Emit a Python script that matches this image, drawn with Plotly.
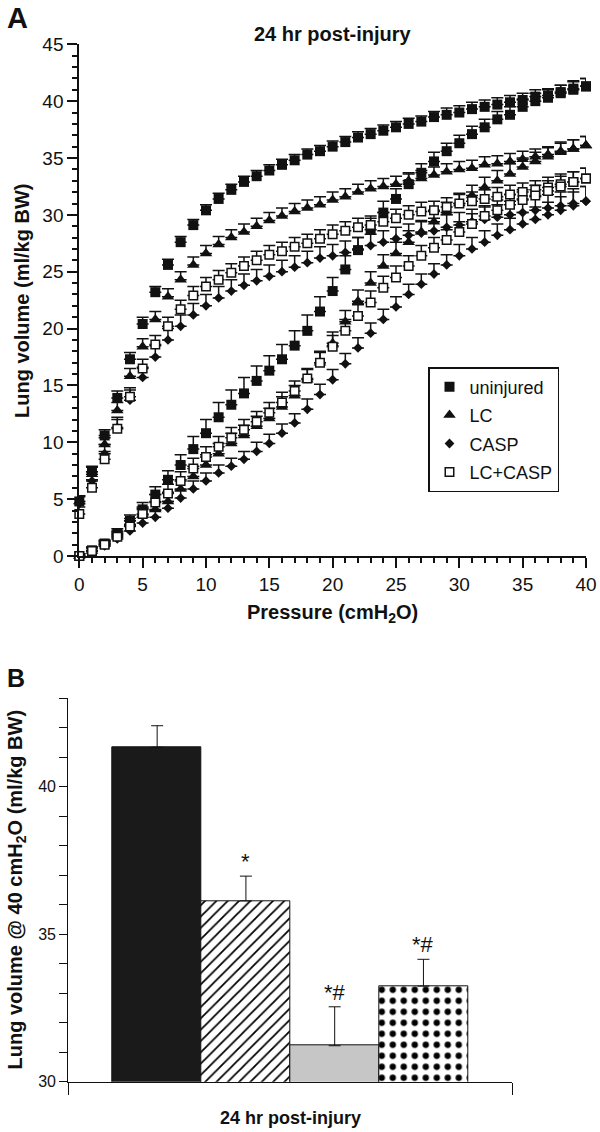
import plotly.graph_objects as go

# ---------------- Panel A data (pressure-volume loops) ----------------
pressure = [0, 1, 2, 3, 4, 5, 6, 7, 8, 9,
            10, 11, 12, 13, 14, 15, 16, 17, 18, 19,
            20, 21, 22, 23, 24, 25, 26, 27, 28, 29,
            30, 31, 32, 33, 34, 35, 36, 37, 38, 39, 40]

# deflation limb (upper) values, ml/kg BW
uninjured_up = [4.8, 7.4, 10.6, 13.9, 17.3, 20.4, 23.2, 25.6, 27.6, 29.1,
                30.4, 31.4, 32.2, 32.9, 33.4, 33.9, 34.4, 34.8, 35.3, 35.6,
                36.0, 36.4, 36.8, 37.1, 37.4, 37.7, 38.0, 38.2, 38.6, 38.8,
                39.0, 39.3, 39.5, 39.7, 39.9, 40.1, 40.4, 40.5, 40.8, 41.1, 41.3]
lc_up = [4.8, 7.2, 9.8, 12.8, 15.8, 18.4, 20.8, 22.8, 24.3, 25.6,
         26.6, 27.4, 28.0, 28.5, 29.0, 29.5, 29.9, 30.3, 30.6, 30.9,
         31.3, 31.6, 32.0, 32.3, 32.5, 32.7, 33.0, 33.2, 33.5, 33.8,
         34.0, 34.1, 34.4, 34.5, 34.7, 34.9, 35.1, 35.3, 35.6, 35.8, 36.1]
casp_up = [4.6, 6.6, 9.0, 11.3, 13.7, 15.7, 17.5, 19.0, 20.2, 21.2,
           22.0, 22.7, 23.3, 23.8, 24.2, 24.6, 25.0, 25.4, 25.8, 26.2,
           26.4, 26.7, 27.0, 27.3, 27.6, 27.9, 28.2, 28.4, 28.6, 28.9,
           29.1, 29.4, 29.6, 29.8, 30.0, 30.2, 30.4, 30.6, 30.8, 31.0, 31.2]
lccasp_up = [3.7, 6.0, 8.5, 11.2, 14.0, 16.5, 18.6, 20.2, 21.7, 22.9,
             23.7, 24.3, 24.9, 25.5, 26.0, 26.5, 26.8, 27.2, 27.5, 27.9,
             28.3, 28.6, 28.9, 29.1, 29.4, 29.7, 30.0, 30.3, 30.4, 30.7,
             31.0, 31.2, 31.4, 31.6, 31.8, 32.0, 32.2, 32.4, 32.7, 32.9, 33.2]

# inflation limb (lower) values, ml/kg BW
uninjured_lo = [0.0, 0.5, 1.1, 2.0, 3.1, 4.1, 5.4, 6.7, 8.0, 9.4,
                10.8, 12.2, 13.3, 14.3, 15.4, 16.3, 17.3, 18.5, 19.8, 21.5,
                23.3, 25.2, 26.9, 28.7, 30.2, 31.4, 32.7, 33.7, 34.7, 35.6,
                36.3, 37.1, 37.7, 38.4, 38.8, 39.5, 40.0, 40.3, 40.7, 41.0, 41.3]
lc_lo = [0.0, 0.45, 1.05, 1.8, 2.8, 3.6, 4.1, 4.8, 5.9, 7.0,
         8.0, 9.0, 9.9, 10.6, 11.4, 12.1, 13.1, 14.1, 15.5, 17.0,
         18.7, 20.6, 22.4, 24.0, 25.5, 26.6, 27.6, 28.5, 29.4, 30.2,
         31.0, 31.7, 32.4, 33.0, 33.6, 34.2, 34.7, 35.1, 35.5, 35.8, 36.1]
casp_lo = [0.0, 0.4, 0.9, 1.5, 2.2, 2.9, 3.4, 4.2, 5.1, 5.9,
           6.6, 7.3, 7.9, 8.5, 9.2, 9.9, 10.8, 11.7, 12.9, 14.2,
           15.5, 16.9, 18.3, 19.6, 20.8, 21.9, 23.0, 23.9, 24.8, 25.6,
           26.4, 27.0, 27.6, 28.2, 28.7, 29.2, 29.6, 30.0, 30.4, 30.8, 31.2]
lccasp_lo = [0.0, 0.45, 1.0, 1.7, 2.6, 3.7, 4.7, 5.5, 6.6, 7.7,
             8.7, 9.6, 10.4, 11.1, 11.8, 12.6, 13.5, 14.5, 15.6, 17.0,
             18.4, 19.8, 21.1, 22.3, 23.6, 24.5, 25.5, 26.4, 27.1, 27.8,
             28.5, 29.2, 29.9, 30.4, 30.9, 31.3, 31.7, 32.1, 32.5, 32.9, 33.2]

# upward error (SEM) for each limb
uninjured_up_err = [0.5, 0.5, 0.5, 0.6, 0.6, 0.6, 0.5, 0.5, 0.5, 0.5,
                    0.5, 0.5, 0.5, 0.5, 0.5, 0.5, 0.5, 0.5, 0.5, 0.5,
                    0.5, 0.5, 0.5, 0.5, 0.5, 0.5, 0.5, 0.5, 0.5, 0.6,
                    0.6, 0.6, 0.6, 0.6, 0.6, 0.6, 0.6, 0.6, 0.6, 0.7, 0.7]
uninjured_lo_err = [0.2, 0.3, 0.3, 0.4, 0.5, 0.6, 0.7, 0.8, 0.9, 1.1,
                    1.2, 1.3, 1.3, 1.4, 1.3, 1.3, 1.3, 1.3, 1.4, 1.3,
                    1.2, 1.2, 1.1, 1.0, 1.0, 0.9, 0.9, 0.8, 0.8, 0.7,
                    0.7, 0.7, 0.7, 0.7, 0.7, 0.7, 0.7, 0.7, 0.7, 0.7, 0.7]
lc_up_err = [0.5, 0.6, 0.6, 0.7, 0.7, 0.7, 0.7, 0.7, 0.7, 0.7,
             0.7, 0.7, 0.7, 0.7, 0.7, 0.7, 0.7, 0.7, 0.7, 0.7,
             0.7, 0.7, 0.7, 0.7, 0.7, 0.7, 0.7, 0.7, 0.7, 0.7,
             0.7, 0.7, 0.7, 0.7, 0.7, 0.7, 0.7, 0.7, 0.8, 0.8, 0.8]
lc_lo_err = [0.2, 0.3, 0.3, 0.4, 0.5, 0.6, 0.7, 0.8, 0.8, 0.9,
             0.9, 0.9, 0.9, 0.9, 0.9, 0.9, 0.9, 0.9, 0.9, 0.9,
             1.0, 1.0, 1.0, 1.0, 1.0, 1.0, 1.0, 0.9, 0.9, 0.9,
             0.9, 0.9, 0.9, 0.9, 0.9, 0.8, 0.8, 0.8, 0.8, 0.8, 0.8]
casp_up_err = [0.6, 0.8, 0.8, 0.9, 0.9, 0.9, 1.0, 1.0, 1.0, 1.0,
               1.0, 1.0, 1.0, 1.0, 1.0, 1.0, 1.0, 1.0, 1.0, 1.0,
               1.0, 1.0, 1.0, 1.0, 1.0, 1.0, 1.0, 1.1, 1.1, 1.1,
               1.1, 1.1, 1.1, 1.1, 1.2, 1.2, 1.2, 1.2, 1.2, 1.3, 1.3]
casp_lo_err = [0.2, 0.3, 0.3, 0.4, 0.5, 0.5, 0.6, 0.6, 0.7, 0.7,
               0.7, 0.7, 0.7, 0.7, 0.8, 0.8, 0.8, 0.8, 0.9, 0.9,
               0.9, 0.9, 0.9, 0.9, 0.9, 0.9, 0.9, 0.9, 0.9, 0.9,
               1.0, 1.0, 1.0, 1.0, 1.0, 1.0, 1.1, 1.1, 1.2, 1.2, 1.3]
lccasp_up_err = [0.6, 0.7, 0.7, 0.8, 0.8, 0.8, 0.8, 0.8, 0.8, 0.8,
                 0.8, 0.8, 0.8, 0.8, 0.8, 0.8, 0.8, 0.8, 0.8, 0.8,
                 0.8, 0.8, 0.8, 0.8, 0.8, 0.8, 0.8, 0.8, 0.8, 0.8,
                 0.8, 0.8, 0.8, 0.8, 0.8, 0.8, 0.8, 0.9, 0.9, 0.9, 0.9]
lccasp_lo_err = [0.2, 0.3, 0.3, 0.4, 0.5, 0.6, 0.7, 0.8, 0.8, 0.9,
                 0.9, 0.9, 0.9, 0.9, 0.9, 0.9, 0.9, 0.9, 0.9, 1.0,
                 1.0, 1.0, 1.0, 1.0, 1.0, 1.0, 0.9, 0.9, 0.9, 0.9,
                 0.9, 0.9, 0.9, 0.9, 0.9, 0.9, 0.9, 0.9, 0.9, 0.9, 0.9]

series_names = ["uninjured", "LC", "CASP", "LC+CASP"]

# ---------------- Panel B data ----------------
bar_groups = ["uninjured", "LC", "CASP", "LC+CASP"]
bar_positions = [1, 2, 3, 4]
bar_values = [41.34, 36.13, 31.22, 33.24]
bar_errors = [0.73, 0.84, 1.32, 0.91]
bar_significance = ["", "*", "*#", "*#"]
b_ticks = [30, 31, 32, 33, 34, 35, 36, 37, 38, 39, 40, 41, 42, 43]
b_ticklabels = ["30", "", "", "", "", "35", "", "", "", "", "40", "", "", ""]

# ---------------- layout helpers ----------------
W, H = 600, 1132
FONT = "Liberation Sans, Arial, Helvetica, sans-serif"
INK = "#111111"


def fx(px):
    return px / W


def fy(py):
    return 1 - py / H


fig = go.Figure()

styles = [
    dict(symbol="square", size=10, color=INK, line=dict(width=0)),
    dict(symbol="triangle-up", size=11, color=INK, line=dict(width=0)),
    dict(symbol="diamond", size=7.5, color=INK, line=dict(width=0)),
    dict(symbol="square", size=8.5, color="white", line=dict(width=1.5, color=INK)),
]
ups = [uninjured_up, lc_up, casp_up, lccasp_up]
los = [uninjured_lo, lc_lo, casp_lo, lccasp_lo]
up_errs = [uninjured_up_err, lc_up_err, casp_up_err, lccasp_up_err]
lo_errs = [uninjured_lo_err, lc_lo_err, casp_lo_err, lccasp_lo_err]

for name, up, lo, eu, el, st in zip(series_names, ups, los, up_errs, lo_errs, styles):
    fig.add_trace(go.Scatter(
        x=pressure + pressure,
        y=up + lo,
        mode="markers",
        name=name,
        legendgroup=name,
        marker=st,
        error_y=dict(type="data", symmetric=False, array=eu + el,
                     arrayminus=[0] * (len(eu) + len(el)),
                     color=INK, thickness=1.5, width=6),
        cliponaxis=False,
        xaxis="x", yaxis="y",
    ))

bar_fill = ["#1a1a1a", "white", "#c6c6c6", "white"]
bar_shape = ["", "/", "", "."]
bar_psize = [8, 8, 8, 11]
bar_solid = [0.2, 0.22, 0.2, 0.26]
for i in range(len(bar_groups)):
    fig.add_trace(go.Bar(
        x=[bar_positions[i]],
        y=[bar_values[i]],
        width=1,
        name=bar_groups[i],
        showlegend=False,
        marker=dict(
            color=bar_fill[i],
            line=dict(color=INK, width=1),
            pattern=dict(shape=bar_shape[i], fgcolor="#000000", fgopacity=1,
                         bgcolor=bar_fill[i], size=bar_psize[i],
                         solidity=bar_solid[i]),
        ),
        error_y=dict(type="data", symmetric=False, array=[bar_errors[i]],
                     arrayminus=[0], color=INK, thickness=1, width=6),
        xaxis="x2", yaxis="y2",
    ))


def note(x, y, text, size, angle=0, xref="paper", yref="paper", **kw):
    d = dict(x=x, y=y, xref=xref, yref=yref, text=text, showarrow=False,
             xanchor="center", yanchor="middle", textangle=angle,
             font=dict(size=size, family=FONT, color=INK))
    d.update(kw)
    return d


annotations = []
for xpos, val, err, sig in zip(bar_positions, bar_values, bar_errors, bar_significance):
    if sig:
        annotations.append(note(xpos, val + err, sig, 22, xref="x2", yref="y2",
                                yanchor="bottom", yshift=0))

annotations += [
    note(fx(17.5), fy(18), "<b>A</b>", 29),
    note(fx(16), fy(678), "<b>B</b>", 25),
    note(fx(332.7), fy(34), "<b>24 hr post-injury</b>", 20),
    note(fx(332.7), fy(613), "<b>Pressure (cmH<sub>2</sub>O)</b>", 20),
    note(fx(22), fy(301), "<b>Lung volume (ml/kg BW)</b>", 20, angle=-90),
    note(fx(290.3), fy(1117.5), "<b>24 hr post-injury</b>", 18),
    note(fx(15.5), fy(890), "<b>Lung volume @ 40 cmH<sub>2</sub>O (ml/kg BW)</b>", 20, angle=-90),
]

axis_common = dict(showgrid=False, zeroline=False, showline=True, automargin=False,
                   linecolor=INK, ticks="outside", tickcolor=INK)

fig.update_layout(
    width=W, height=H,
    margin=dict(l=0, r=0, t=0, b=0, autoexpand=False),
    paper_bgcolor="white", plot_bgcolor="white",
    font=dict(family=FONT, color=INK),
    showlegend=True,
    legend=dict(x=fx(428), y=fy(367), xanchor="left", yanchor="top",
                bordercolor=INK, borderwidth=1.5, bgcolor="white",
                font=dict(size=18, family=FONT, color=INK),
                traceorder="grouped", tracegroupgap=2, itemwidth=30),
    xaxis=dict(domain=[fx(79.3), fx(586)], anchor="y", range=[0, 40],
               tick0=0, dtick=5, ticklen=10, tickwidth=1.5, linewidth=2,
               tickfont=dict(size=19),
               minor=dict(dtick=1, ticklen=5, tickwidth=1.5, ticks="outside",
                          tickcolor=INK),
               **axis_common),
    yaxis=dict(domain=[fy(556), fy(44.3)], anchor="x", range=[0, 45],
               tick0=0, dtick=5, ticklen=10, tickwidth=1.5, linewidth=2,
               tickfont=dict(size=19),
               minor=dict(dtick=1, ticklen=5, tickwidth=1.5, ticks="outside",
                          tickcolor=INK),
               **axis_common),
    xaxis2=dict(domain=[fx(68.3), fx(512.3)], anchor="y2", range=[-0.001, 5.001],
                tickvals=[0, 5], ticktext=["", ""], ticklen=12, tickwidth=1,
                linewidth=1.2, **axis_common),
    yaxis2=dict(domain=[fy(1081.7), fy(698.3)], anchor="x2", range=[30, 43],
                tickvals=b_ticks, ticktext=b_ticklabels, ticklen=8, tickwidth=1,
                linewidth=1.2, tickfont=dict(size=16), **axis_common),
    annotations=annotations,
    bargap=0,
    barmode="overlay",
)

fig.write_html("out.html",
               config={"displayModeBar": False},
               post_script="document.body.style.margin='0';"
                           "document.body.style.overflow='hidden';")
